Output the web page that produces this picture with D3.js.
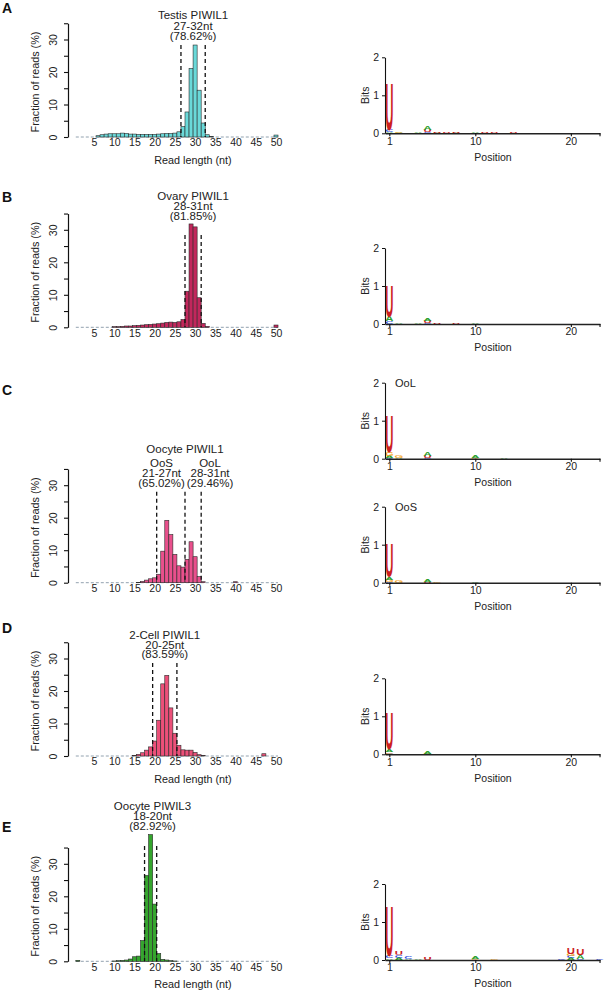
<!DOCTYPE html>
<html><head><meta charset="utf-8">
<script src="https://cdn.jsdelivr.net/npm/d3@7"></script>
<style>
body{margin:0;background:#fff}
svg text{font-family:"Liberation Sans",Arial,Helvetica,sans-serif;fill:#222}
</style>
</head><body>
<svg id="chart" width="605" height="993"></svg>
<script>
// ---------------- DATA ----------------
const readLengths = d3.range(1, 51);
const histTicksY = [0, 5, 10, 15, 20, 25, 30, 35];
const histTickLabelsY = [0, 10, 20, 30];
const histTickLabelsX = [5, 10, 15, 20, 25, 30, 35, 40, 45, 50];

const testisPIWIL1 = [0,0,0,0,0,0.4,0.7,0.9,1.0,1.0, 1.0,1.2,1.1,0.9,0.9,0.8,0.8,0.8,0.8,0.8, 0.9,1.0,1.1,1.1,1.2,1.6,3.2,7.7,21.1,28.3, 14.4,4.3,0.7,0.2,0,0,0,0,0,0, 0,0,0,0,0,0,0,0,0,0.6];
const ovaryPIWIL1 = [0,0,0,0,0,0,0,0,0,0.2, 0.2,0.3,0.4,0.4,0.5,0.6,0.7,0.8,0.9,1.0, 1.1,1.3,1.5,1.6,1.5,1.7,2.4,11.1,31.8,30.9, 9.1,1.2,0.3,0,0,0,0,0,0,0, 0,0,0,0,0,0,0,0,0,0.7];
const oocytePIWIL1 = [0,0,0,0,0,0,0,0,0,0, 0,0,0,0,0,0.1,0.4,0.8,1.2,1.5, 2.6,9.7,19.2,14.8,8.7,5.2,4.8,7.2,12.6,8.0, 1.9,0.3,0,0,0,0,0,0,0,0.3, 0,0,0,0,0,0,0,0,0,0];
const twoCellPIWIL1 = [0,0,0,0,0,0,0,0,0,0, 0,0,0,0,0.2,0.5,1.0,1.8,2.8,4.6, 11.0,22.2,24.8,14.8,7.0,3.3,1.9,1.8,1.8,1.1, 0.4,0.2,0,0,0,0,0,0,0,0, 0,0,0,0,0,0,0.7,0,0,0];
const oocytePIWIL3 = [0.3,0,0,0,0,0,0,0,0,0.1, 0.2,0.3,0.4,0.7,1.4,1.6,6.4,26.4,39.0,17.6, 2.4,0.6,0.4,0.2,0.1,0,0,0,0,0, 0,0,0,0,0,0,0,0,0,0, 0,0,0,0,0,0,0,0,0,0];

// size-range boundaries (read length units) and top of dashed lines (%)
const rangesA = [26.5, 32.5], rangesB = [27.5, 31.5], rangesC = [20.5, 27.5, 31.5], rangesD = [19.5, 25.5], rangesE = [17.5, 20.5];
const lineTops = [28.3, 28.4, 28.0, 28.6, 35.5];

const titlesA = ["Testis PIWIL1", "27-32nt", "(78.62%)"];
const titlesB = ["Ovary PIWIL1", "28-31nt", "(81.85%)"];
const titleC = "Oocyte PIWIL1";
const titlesOoS = ["OoS", "21-27nt", "(65.02%)"];
const titlesOoL = ["OoL", "28-31nt", "(29.46%)"];
const titlesD = ["2-Cell PIWIL1", "20-25nt", "(83.59%)"];
const titlesE = ["Oocyte PIWIL3", "18-20nt", "(82.92%)"];

// sequence logos: [position, [[letter, bits], ...bottom to top]]
const logoTicksX = [1, 10, 20, 23];
const bitsTicks = [0, 1, 2];
const logoTestis = [
  [1, [["A",0.03],["C",0.07],["U",1.28]]], [2, [["A",0.02],["G",0.02]]], [4, [["A",0.02]]],
  [5, [["C",0.03],["U",0.05],["A",0.10]]], [6, [["A",0.02],["U",0.03]]], [7, [["U",0.02]]],
  [8, [["A",0.02],["U",0.03]]], [10, [["A",0.04]]], [11, [["U",0.02]]], [12, [["U",0.02]]], [14, [["U",0.02]]]
];
const logoOvary = [
  [1, [["C",0.07],["A",0.12],["U",0.83]]], [2, [["A",0.02]]], [4, [["A",0.02]]],
  [5, [["C",0.03],["U",0.05],["A",0.08]]], [6, [["U",0.03]]], [8, [["U",0.02]]], [10, [["A",0.04]]]
];
const logoOoL = [
  [1, [["C",0.02],["A",0.05],["G",0.10],["U",0.97]]], [2, [["A",0.02],["G",0.05]]],
  [5, [["C",0.02],["U",0.06],["A",0.10]]], [10, [["G",0.03],["A",0.05]]], [13, [["A",0.04]]]
];
const logoOoS = [
  [1, [["C",0.02],["G",0.05],["A",0.08],["U",0.92]]], [2, [["G",0.05]]],
  [5, [["U",0.03],["A",0.06]]], [6, [["G",0.02]]], [10, [["A",0.03]]]
];
const logoTwoCell = [
  [1, [["C",0.02],["G",0.03],["A",0.08],["U",0.97]]], [5, [["U",0.02],["A",0.05]]]
];
const logoPIWIL3 = [
  [1, [["A",0.04],["C",0.07],["U",1.32]]], [2, [["A",0.05],["C",0.08],["U",0.10]]],
  [3, [["A",0.03],["C",0.05]]], [4, [["A",0.02]]], [5, [["U",0.05]]], [10, [["G",0.02],["A",0.05]]],
  [12, [["G",0.02]]], [19, [["C",0.03]]], [20, [["A",0.05],["C",0.05],["G",0.06],["U",0.16]]],
  [21, [["C",0.02],["A",0.10],["U",0.16]]], [23, [["C",0.03]]]
];

// ---------------- LAYOUT / STYLE ----------------
const svg = d3.select("#chart");
const letterColors = {A: "#2ca02c", C: "#2f4fe0", G: "#f5a623", U: "#cc1f1f"};
const x = d3.scaleLinear().domain([5, 50]).range([94, 276]);
const unitPx = 3.25;

const panels = [
  {letter: "A", letterY: 13, zero: 137, data: testisPIWIL1, fill: "#6ad9d9", ranges: rangesA, lineTop: lineTops[0],
   blocks: [{lines: titlesA, cx: x((rangesA[0] + rangesA[1]) / 2), y: [19, 29.5, 40]}], xlab: true,
   logos: [{data: logoTestis, zero: 133.3}]},
  {letter: "B", letterY: 201.5, zero: 327.3, data: ovaryPIWIL1, fill: "#c2275c", ranges: rangesB, lineTop: lineTops[1],
   blocks: [{lines: titlesB, cx: x((rangesB[0] + rangesB[1]) / 2), y: [200, 209.8, 219.6]}], xlab: false,
   logos: [{data: logoOvary, zero: 324}]},
  {letter: "C", letterY: 395, zero: 582.7, data: oocytePIWIL1, fill: "#e9508c", ranges: rangesC, lineTop: lineTops[2],
   blocks: [{lines: [titleC], cx: x(rangesC[1]), y: [453]},
            {lines: titlesOoS, cx: 161.5, y: [467, 477, 486.5]},
            {lines: titlesOoL, cx: 210, y: [467, 477, 486.5]}], xlab: false,
   logos: [{data: logoOoL, zero: 458.7, tag: "OoL"}, {data: logoOoS, zero: 582.7, tag: "OoS"}]},
  {letter: "D", letterY: 633, zero: 756, data: twoCellPIWIL1, fill: "#ec5079", ranges: rangesD, lineTop: lineTops[3],
   blocks: [{lines: titlesD, cx: x((rangesD[0] + rangesD[1]) / 2), y: [639.3, 648.8, 658.3]}], xlab: true,
   logos: [{data: logoTwoCell, zero: 754.3}]},
  {letter: "E", letterY: 831.5, zero: 961.3, data: oocytePIWIL3, fill: "#35a62e", ranges: rangesE, lineTop: lineTops[4],
   blocks: [{lines: titlesE, cx: 152.5, y: [810, 820, 830]}], xlab: true,
   logos: [{data: logoPIWIL3, zero: 960}]}
];

function drawHist(p) {
  const g = svg.append("g");
  const y = d3.scaleLinear().domain([0, 35]).range([p.zero, p.zero - 35 * unitPx]);
  const bw = x(2) - x(1);
  // panel letter
  svg.append("text").attr("x", 2).attr("y", p.letterY).text(p.letter)
    .style("font-weight", "bold").style("font-size", "14px").style("fill", "#111");
  // zero baseline (dashed)
  g.append("line").attr("x1", x(0.5)).attr("x2", x(50.5)).attr("y1", p.zero).attr("y2", p.zero)
    .attr("stroke", "#8797a6").attr("stroke-width", 0.9).attr("stroke-dasharray", "3,2");
  // bars
  g.selectAll("rect.bar").data(readLengths.map((l, i) => ({l, v: p.data[i]})).filter(d => d.v > 0))
    .join("rect").attr("class", "bar")
    .attr("x", d => x(d.l - 0.5)).attr("width", bw)
    .attr("y", d => y(d.v)).attr("height", d => p.zero - y(d.v))
    .attr("fill", p.fill).attr("stroke", "#2a2a2a").attr("stroke-width", 0.6);
  // dashed range lines
  g.selectAll("line.rng").data(p.ranges).join("line").attr("class", "rng")
    .attr("x1", d => x(d)).attr("x2", d => x(d))
    .attr("y1", y(p.lineTop)).attr("y2", p.zero)
    .attr("stroke", "#111").attr("stroke-width", 1.3).attr("stroke-dasharray", "4,3");
  // y axis
  const ya = g.append("g").attr("transform", "translate(68,0)")
    .call(d3.axisLeft(y).tickValues(histTicksY).tickSize(4).tickSizeOuter(0)
      .tickFormat(d => histTickLabelsY.includes(d) ? d : ""));
  ya.select(".domain").attr("stroke", "#111").attr("stroke-width", 1.2);
  ya.selectAll(".tick line").attr("stroke", "#111").attr("stroke-width", 1.1);
  ya.selectAll(".tick text").attr("transform", "rotate(-90)").attr("x", 0).attr("y", -11)
    .attr("dy", 0).style("text-anchor", "middle").style("font-size", "10.5px")
    .style("font-family", "Liberation Sans, Arial, sans-serif").attr("fill", "#222");
  // x axis (labels only)
  const xa = g.append("g").attr("transform", `translate(0,${p.zero})`)
    .call(d3.axisBottom(x).tickValues(histTickLabelsX).tickSize(0).tickPadding(2));
  xa.select(".domain").remove();
  xa.selectAll(".tick text").style("font-size", "10.5px")
    .style("font-family", "Liberation Sans, Arial, sans-serif").attr("fill", "#222");
  // axis titles
  g.append("text").attr("transform", `translate(38.5,${p.zero - 55}) rotate(-90)`)
    .attr("text-anchor", "middle").style("font-size", "10.8px").text("Fraction of reads (%)");
  if (p.xlab) {
    g.append("text").attr("x", 193).attr("y", p.zero + 27).attr("text-anchor", "middle")
      .style("font-size", "10.8px").text("Read length (nt)");
  }
  // titles
  p.blocks.forEach(b => {
    b.lines.forEach((t, i) => {
      g.append("text").attr("x", b.cx).attr("y", b.y[i]).attr("text-anchor", "middle")
        .style("font-size", "11.5px").text(t);
    });
  });
}

function drawLogo(L) {
  const g = svg.append("g");
  const lx = d3.scaleLinear().domain([0.55, 23.05]).range([385, 600]);
  const ly = d3.scaleLinear().domain([0, 2]).range([L.zero, L.zero - 76]);
  const step = lx(2) - lx(1);
  // letters
  L.data.forEach(([pos, stack]) => {
    let base = 0;
    stack.forEach(([ch, h]) => {
      const y0 = ly(base), hp = ly(base) - ly(base + h);
      g.append("text").text(ch)
        .attr("text-anchor", "middle")
        .attr("transform", `translate(${lx(pos)},${y0}) scale(${(step * 0.78) / 66},${hp / 72})`)
        .style("font-size", "100px").style("font-weight", "bold").style("fill", letterColors[ch]);
      base += h;
    });
  });
  // y axis
  const ya = g.append("g").attr("transform", "translate(385,0)")
    .call(d3.axisLeft(ly).tickValues(bitsTicks).tickSize(3).tickSizeOuter(0).tickPadding(3).tickFormat(d3.format("d")));
  ya.select(".domain").attr("stroke", "#111").attr("stroke-width", 1.1);
  ya.selectAll(".tick line").attr("stroke", "#111");
  ya.selectAll(".tick text").style("font-size", "10.5px").attr("fill", "#222")
    .style("font-family", "Liberation Sans, Arial, sans-serif");
  // x axis
  const xa = g.append("g").attr("transform", `translate(0,${L.zero})`)
    .call(d3.axisBottom(lx).tickValues(logoTicksX).tickSize(3).tickSizeOuter(0).tickPadding(1)
      .tickFormat(d => d === 23 ? "" : d));
  xa.select(".domain").attr("stroke", "#222").attr("stroke-width", 1.6);
  xa.selectAll(".tick line").attr("stroke", "#111").attr("stroke-width", 1.1);
  xa.selectAll(".tick text").style("font-size", "10.5px").attr("fill", "#222")
    .style("font-family", "Liberation Sans, Arial, sans-serif");
  // titles
  g.append("text").attr("transform", `translate(369,${ly(1)}) rotate(-90)`)
    .attr("text-anchor", "middle").style("font-size", "10.5px").text("Bits");
  g.append("text").attr("x", 493).attr("y", L.zero + 27.4).attr("text-anchor", "middle")
    .style("font-size", "10.5px").text("Position");
  if (L.tag) {
    g.append("text").attr("x", 395).attr("y", ly(2) + 4).style("font-size", "11px").text(L.tag);
  }
}

panels.forEach(p => { drawHist(p); p.logos.forEach(drawLogo); });
</script>
</body></html>
